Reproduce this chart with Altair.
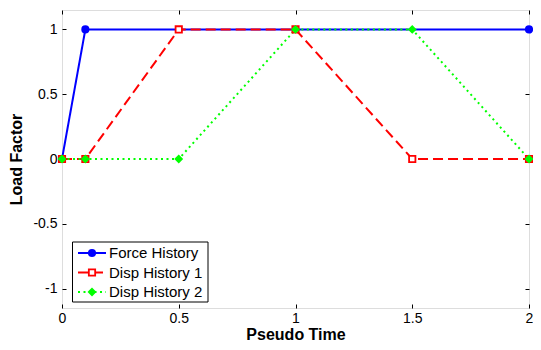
import altair as alt
import pandas as pd

series = ["Force History", "Disp History 1", "Disp History 2"]
force_t = [0, 0.1, 2]
force_v = [0, 1, 1]
disp1_t = [0, 0.1, 0.5, 1, 1.5, 2]
disp1_v = [0, 0, 1, 1, 0, 0]
disp2_t = [0, 0.1, 0.5, 1, 1.5, 2]
disp2_v = [0, 0, 0, 1, 1, 0]
x_ticks = [0, 0.5, 1, 1.5, 2]
y_ticks = [-1, -0.5, 0, 0.5, 1]

rows = []
for name, ts, vs in zip(series, [force_t, disp1_t, disp2_t], [force_v, disp1_v, disp2_v]):
    for i, (t, v) in enumerate(zip(ts, vs)):
        rows.append({"series": name, "t": t, "v": v, "order": i})
df = pd.DataFrame(rows)
legend_df = pd.DataFrame({"series": series})
box_df = pd.DataFrame({"box": [0]})

colors = ["#0000ff", "#ff0000", "#00ff00"]
dashes = [[1, 0], [10, 5], [2, 3.5]]
shapes = ["circle", "square", "diamond"]
fills = ["#0000ff", "#ffffff", "#00ff00"]

FONT = "Liberation Sans"
color_scale = alt.Scale(domain=series, range=colors)
dash_scale = alt.Scale(domain=series, range=dashes)
shape_scale = alt.Scale(domain=series, range=shapes)
fill_scale = alt.Scale(domain=series, range=fills)

xs = alt.Scale(domain=[0, 2], nice=False, zero=False)
ys = alt.Scale(domain=[-1.15, 1.15], nice=False, zero=False)

lbl = "'' + datum.value"

x_bottom = alt.Axis(values=x_ticks, orient="bottom", offset=-4, tickSize=4, domain=False,
                    grid=False, labelPadding=3, labelExpr=lbl, title="Pseudo Time",
                    titlePadding=1, labelFontSize=14, titleFontSize=16, titleFontWeight="bold",
                    labelColor="black", tickColor="black", titleColor="black",
                    labelFont=FONT, titleFont=FONT, labelFlush=False)
y_left = alt.Axis(values=y_ticks, orient="left", offset=-4, tickSize=4, domain=False,
                  grid=False, labelPadding=5, labelExpr=lbl, title="Load Factor",
                  titlePadding=8, labelFontSize=14, titleFontSize=16, titleFontWeight="bold",
                  labelColor="black", tickColor="black", titleColor="black",
                  labelFont=FONT, titleFont=FONT, labelFlush=False)
x_top = alt.Axis(values=x_ticks, orient="top", offset=-4, tickSize=4, domain=False,
                 grid=False, labels=False, title=None, tickColor="black")
y_right = alt.Axis(values=y_ticks, orient="right", offset=-4, tickSize=4, domain=False,
                   grid=False, labels=False, title=None, tickColor="black")

lines = alt.Chart(df).mark_line(strokeWidth=2).encode(
    x=alt.X("t:Q", scale=xs, axis=x_bottom),
    y=alt.Y("v:Q", scale=ys, axis=y_left),
    color=alt.Color("series:N", scale=color_scale, legend=None),
    strokeDash=alt.StrokeDash("series:N", scale=dash_scale, legend=None),
    detail="series:N",
    order="order:Q",
)

points = alt.Chart(df).mark_point(size=40, strokeWidth=1.8, filled=False, opacity=1, fillOpacity=1).encode(
    x=alt.X("t:Q", scale=xs, axis=x_top),
    y=alt.Y("v:Q", scale=ys, axis=y_right),
    color=alt.Color("series:N", scale=color_scale, legend=None),
    fill=alt.Fill("series:N", scale=fill_scale, legend=None),
    shape=alt.Shape("series:N", scale=shape_scale, legend=None),
)

ly = alt.Y("series:N", scale=alt.Scale(type="point", domain=series, range=[243, 282], padding=0), axis=None)

box = alt.Chart(box_df).mark_rect(fill="white", stroke="black", strokeWidth=1).encode(
    x=alt.value(10.5), x2=alt.value(146), y=alt.value(232), y2=alt.value(292)
)

leg_lines = alt.Chart(legend_df).mark_rule(strokeWidth=2).encode(
    x=alt.value(16), x2=alt.value(44), y=ly,
    color=alt.Color("series:N", scale=color_scale, legend=None),
    strokeDash=alt.StrokeDash("series:N", scale=dash_scale, legend=None),
)

leg_pts = alt.Chart(legend_df).mark_point(size=40, strokeWidth=1.8, filled=False, opacity=1, fillOpacity=1).encode(
    x=alt.value(30), y=ly,
    color=alt.Color("series:N", scale=color_scale, legend=None),
    fill=alt.Fill("series:N", scale=fill_scale, legend=None),
    shape=alt.Shape("series:N", scale=shape_scale, legend=None),
)

leg_text = alt.Chart(legend_df).mark_text(align="left", baseline="middle", font=FONT,
                                          fontSize=15, color="black").encode(
    x=alt.value(47), y=ly, text="series:N"
)

chart = alt.layer(lines, points, box, leg_lines, leg_pts, leg_text).resolve_scale(
    y="independent"
).resolve_axis(
    x="independent", y="independent"
).properties(
    width=467, height=298,
    padding={"left": 54, "top": 2, "right": 4, "bottom": 34},
    autosize=alt.AutoSizeParams(type="none"),
).configure_view(
    stroke="black", strokeWidth=1
).configure(
    font=FONT, background="white"
)

chart.save("out.html", embed_options={"renderer": "svg", "actions": False})
